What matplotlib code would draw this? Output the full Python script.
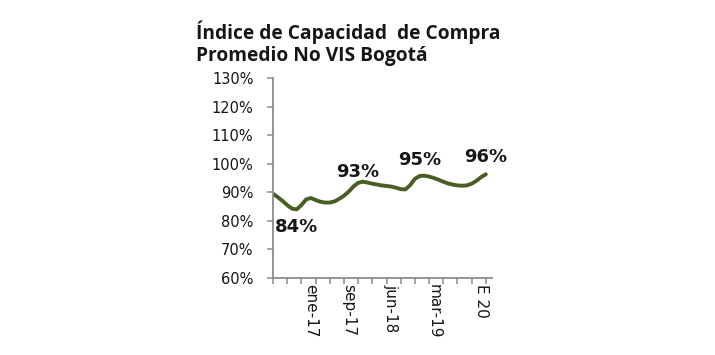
import matplotlib
matplotlib.use('Agg')
import matplotlib.pyplot as plt

# Meses (desde may-16) y valores del índice (%)
meses = ['may-16', 'jun-16', 'jul-16', 'ago-16', 'sep-16', 'oct-16', 'nov-16', 'dic-16',
         'ene-17', 'feb-17', 'mar-17', 'abr-17', 'may-17', 'jun-17', 'jul-17', 'ago-17',
         'sep-17', 'oct-17', 'nov-17', 'dic-17', 'ene-18', 'feb-18', 'mar-18', 'abr-18',
         'may-18', 'jun-18', 'jul-18', 'ago-18', 'sep-18', 'oct-18', 'nov-18', 'dic-18',
         'ene-19', 'feb-19', 'mar-19', 'abr-19', 'may-19', 'jun-19', 'jul-19', 'ago-19',
         'sep-19', 'oct-19', 'nov-19', 'dic-19', 'ene-20', 'feb-20']
indice = [89.5, 88.3, 87.0, 85.5, 84.3, 84.0, 85.5, 87.5, 88.0, 87.3,
          86.7, 86.4, 86.4, 86.8, 87.7, 88.8, 90.2, 92.0, 93.3, 93.7,
          93.4, 93.0, 92.7, 92.4, 92.2, 92.0, 91.6, 91.1, 91.0, 92.5,
          94.7, 95.7, 95.8, 95.5, 95.0, 94.4, 93.7, 93.1, 92.7, 92.4,
          92.3, 92.4, 93.0, 94.0, 95.3, 96.3]

etiquetas_mes = ['ene-17', 'sep-17', 'jun-18', 'mar-19', 'ene-20']
etiquetas_txt = ['ene-17', 'sep-17', 'jun-18', 'mar-19', 'E 20']

# Etiquetas de datos: mes, texto
datos_mes = ['oct-16', 'nov-17', 'dic-18', 'feb-20']
datos_txt = ['84%', '93%', '95%', '96%']

y_ticks = [60, 70, 80, 90, 100, 110, 120, 130]

VERDE = '#4a5e23'
GRIS = '#8c8c8c'
NEGRO = '#161616'

fig = plt.figure(figsize=(7.15, 3.55), dpi=100)
ax = fig.add_axes([0.3818, 0.2169, 0.3063, 0.5634])

x = list(range(len(meses)))
ax.plot(x, indice, color=VERDE, linewidth=2.8, solid_capstyle='round')

ax.set_xlim(0, len(meses) + 0.3)
ax.set_ylim(60, 130)

ax.set_yticks(y_ticks)
ax.set_yticklabels([f'{v}%' for v in y_ticks], fontsize=10.5,
                   family='DejaVu Sans', color=NEGRO)

# marcas trimestrales y etiquetas sin marca
ax.set_xticks(range(0, len(meses), 3), minor=True)
ax.set_xticks([meses.index(m) for m in etiquetas_mes])
ax.set_xticklabels(etiquetas_txt, rotation=270, fontsize=11,
                   family=['Liberation Sans Narrow', 'DejaVu Sans'], color=NEGRO)
ax.tick_params(axis='x', which='major', length=0, pad=4)
ax.tick_params(axis='x', which='minor', length=4, color=GRIS, width=1.1)
ax.tick_params(axis='y', length=4, color=GRIS, width=1.1, pad=10)

for s in ['top', 'right']:
    ax.spines[s].set_visible(False)
for s in ['left', 'bottom']:
    ax.spines[s].set_color(GRIS)
    ax.spines[s].set_linewidth(1.3)

offsets = [-13, 8, 11.5, 12.5]
for m, t, dy in zip(datos_mes, datos_txt, offsets):
    i = meses.index(m)
    ax.annotate(t, (i, indice[i]), xytext=(0, dy), textcoords='offset points',
                ha='center', va='center',
                fontsize=13, fontweight='bold', family='DejaVu Sans', color=NEGRO)

fig.text(196 / 715, 1 - 20 / 355, 'Índice de Capacidad  de Compra\nPromedio No VIS Bogotá',
         ha='left', va='top', fontsize=13.8, fontweight='bold', family='Open Sans',
         color=NEGRO, linespacing=1.2)

fig.savefig('out.png', dpi=100)
